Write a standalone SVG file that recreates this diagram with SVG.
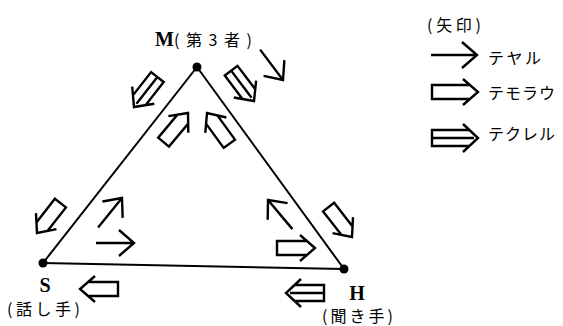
<svg xmlns="http://www.w3.org/2000/svg" xmlns:xlink="http://www.w3.org/1999/xlink" width="563" height="326" viewBox="0 0 563 326">
<style>
.ln{stroke:#000;stroke-width:2;fill:none}
.ar{stroke:#000;stroke-width:2.4;fill:none;stroke-linejoin:miter;stroke-linecap:butt}
.cjk{font-family:"Noto Sans CJK JP","Noto Sans",sans-serif;font-size:16px;fill:#000}
.ser{font-family:"Liberation Serif","Times New Roman",serif;font-weight:bold;font-size:20px;fill:#000}
</style>
<defs>
<g id="simple" class="ar"><path d="M-38,0 H0 M-15,-13 L0,0 L-15,13"/></g>
<g id="block" class="ar"><path d="M-8,-7 H-38 V7 H-8 M-15,-13 L0,0 L-15,13"/></g>
<g id="double" class="ar"><path d="M-8.5,-8 H-38 V8 H-8.5 M-38,0 H-4 M-15,-14 L0,0 L-15,14"/></g>
<g id="simpleL" class="ar"><path d="M-46,0 H0 M-15,-13 L0,0 L-15,13"/></g>
<g id="blockL" class="ar"><path d="M-8,-7 H-46 V7 H-8 M-15,-13 L0,0 L-15,13"/></g>
<g id="doubleL" class="ar"><path d="M-8.5,-8 H-46 V8 H-8.5 M-46,0 H-4 M-15,-14 L0,0 L-15,14"/></g>
</defs>
<rect width="563" height="326" fill="#fff"/>
<g id="connectors">
<line class="ln" x1="197" y1="67" x2="43" y2="263"/>
<line class="ln" x1="197" y1="67" x2="344" y2="269"/>
<line class="ln" x1="43" y1="263" x2="344" y2="269"/>
<use xlink:href="#double" transform="translate(134,107) rotate(128)"/>
<use xlink:href="#double" transform="translate(254,101) rotate(53)"/>
<use xlink:href="#simple" transform="translate(283,80) rotate(53)"/>
<use xlink:href="#block" transform="translate(188,113) rotate(-50)"/>
<use xlink:href="#block" transform="translate(207,113) rotate(-126)"/>
<use xlink:href="#block" transform="translate(37,233) rotate(128)"/>
<use xlink:href="#simple" transform="translate(122,198) rotate(-51)"/>
<use xlink:href="#simple" transform="translate(134,243)"/>
<use xlink:href="#block" transform="translate(80,289) rotate(180)"/>
<use xlink:href="#double" transform="translate(286,293) rotate(180)"/>
<use xlink:href="#simple" transform="translate(268,200) rotate(-130)"/>
<use xlink:href="#block" transform="translate(315,248)"/>
<use xlink:href="#block" transform="translate(352,237) rotate(52)"/>
</g>
<g id="node-M">
<circle cx="197" cy="67" r="4.5" fill="#000"/>
<text x="155" y="46" class="ser">M</text>
<text x="174" y="46" class="cjk" textLength="78" lengthAdjust="spacing">(第3者)</text>
</g>
<g id="node-S">
<circle cx="43" cy="263" r="4.5" fill="#000"/>
<text x="45" y="292" class="ser" text-anchor="middle">S</text>
<text x="7" y="315" class="cjk" textLength="73" lengthAdjust="spacing">(話し手)</text>
</g>
<g id="node-H">
<circle cx="344" cy="269" r="4.5" fill="#000"/>
<text x="357" y="300" class="ser" font-size="19" text-anchor="middle">H</text>
<text x="322" y="322" class="cjk" font-size="15" textLength="71" lengthAdjust="spacing">(聞き手)</text>
</g>
<g id="legend">
<text x="427" y="31" class="cjk" textLength="54" lengthAdjust="spacing">(矢印)</text>
<use xlink:href="#simpleL" transform="translate(477,55)"/>
<text x="488" y="64" class="cjk" textLength="53" lengthAdjust="spacing">テヤル</text>
<use xlink:href="#blockL" transform="translate(478,92)"/>
<text x="488" y="99" class="cjk" textLength="67" lengthAdjust="spacing">テモラウ</text>
<use xlink:href="#doubleL" transform="translate(478,138)"/>
<text x="488" y="140" class="cjk" textLength="67" lengthAdjust="spacing">テクレル</text>
</g>
</svg>
